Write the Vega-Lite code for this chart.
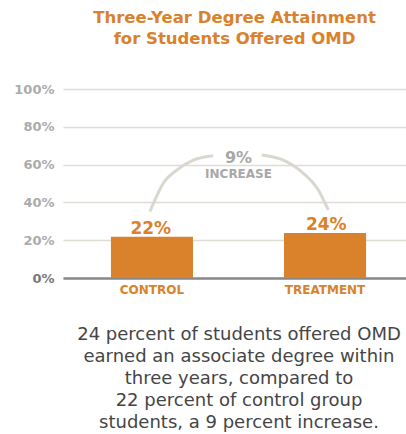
{
  "$schema": "https://vega.github.io/schema/vega-lite/v6.json",
  "autosize": "none",
  "width": 343,
  "height": 189,
  "padding": {"left": 63, "top": 89, "right": 0, "bottom": 156},
  "background": "white",
  "config": {
    "view": {"stroke": null},
    "font": "DejaVu Sans"
  },
  "title": {
    "text": ["Three-Year Degree Attainment", "for Students Offered OMD"],
    "color": "#D9822B",
    "fontSize": 16.5,
    "fontWeight": "bold",
    "font": "DejaVu Sans",
    "anchor": "middle",
    "lineHeight": 21,
    "offset": 36
  },
  "datasets": {
    "bars": [
      {"group": "CONTROL", "value": 21.8, "label": "22%"},
      {"group": "TREATMENT", "value": 23.8, "label": "24%"}
    ],
    "arc": [
      {"seg": "a", "pos": -0.012, "pct": 35.1},
      {"seg": "a", "pos": 0.017, "pct": 41.3},
      {"seg": "a", "pos": 0.065, "pct": 50.1},
      {"seg": "a", "pos": 0.143, "pct": 57.1},
      {"seg": "a", "pos": 0.239, "pct": 62.4},
      {"seg": "a", "pos": 0.354, "pct": 64.7},
      {"seg": "b", "pos": 0.634, "pct": 65.1},
      {"seg": "b", "pos": 0.759, "pct": 62.4},
      {"seg": "b", "pos": 0.875, "pct": 55.4},
      {"seg": "b", "pos": 0.961, "pct": 46.6},
      {"seg": "b", "pos": 1.019, "pct": 36.0}
    ],
    "annot": [
      {"pos": 0.5, "pct": 61.0, "text": "9%", "size": "big"},
      {"pos": 0.5, "pct": 52.75, "text": "INCREASE", "size": "small"}
    ]
  },
  "layer": [
    {
      "data": {"name": "bars"},
      "mark": {"type": "bar", "color": "#D9822B"},
      "encoding": {
        "x": {
          "field": "group",
          "type": "nominal",
          "sort": null,
          "scale": {"range": [0, 351], "paddingInner": 0.526, "paddingOuter": 0.277},
          "axis": {
            "labelAngle": 0,
            "labelColor": "#D9822B",
            "labelFontWeight": "bold",
            "labelFontSize": 12,
            "labelPadding": 6,
            "ticks": false,
            "domain": true,
            "domainColor": "#888888",
            "domainWidth": 2.5,
            "title": [
              "24 percent of students offered OMD",
              "earned an associate degree within",
              "three years, compared to",
              "22 percent of control group",
              "students, a 9 percent increase."
            ],
            "titleFontSize": 18,
            "titleFontWeight": "normal",
            "titleColor": "#454545",
            "titleLineHeight": 22,
            "titlePadding": 30
          }
        },
        "y": {
          "field": "value",
          "type": "quantitative",
          "scale": {"domain": [0, 100]},
          "axis": {
            "values": [0, 20, 40, 60, 80, 100],
            "labelExpr": "datum.value + '%'",
            "labelFontWeight": "bold",
            "labelFontSize": 13,
            "labelColor": {"condition": {"test": "datum.value === 0", "value": "#777777"}, "value": "#ababab"},
            "labelPadding": 9,
            "labelOverlap": false,
            "ticks": false,
            "domain": false,
            "grid": true,
            "gridColor": "#dedcd5",
            "gridWidth": 1.3,
            "title": null
          }
        }
      }
    },
    {
      "data": {"name": "bars"},
      "mark": {"type": "text", "color": "#D9822B", "fontWeight": "bold", "fontSize": 17, "baseline": "alphabetic", "dy": -3},
      "encoding": {
        "x": {
          "field": "group",
          "type": "nominal",
          "sort": null,
          "scale": {"range": [0, 351], "paddingInner": 0.526, "paddingOuter": 0.277},
          "axis": null
        },
        "y": {
          "field": "value",
          "type": "quantitative",
          "axis": {
            "values": [0, 20, 40, 60, 80, 100],
            "labelExpr": "datum.value + '%'",
            "labelFontWeight": "bold",
            "labelFontSize": 13,
            "labelColor": {"condition": {"test": "datum.value === 0", "value": "#777777"}, "value": "#ababab"},
            "labelPadding": 9,
            "labelOverlap": false,
            "ticks": false,
            "domain": false,
            "grid": true,
            "gridColor": "#dedcd5",
            "gridWidth": 1.3,
            "title": null
          }
        },
        "text": {"field": "label"}
      }
    },
    {
      "data": {"name": "arc"},
      "mark": {"type": "line", "interpolate": "monotone", "color": "#d9d7d0", "strokeWidth": 3},
      "encoding": {
        "x": {"field": "pos", "type": "quantitative", "scale": {"domain": [-0.5145, 1.4682], "nice": false, "zero": false}, "axis": null},
        "y": {
          "field": "pct",
          "type": "quantitative",
          "axis": {
            "values": [0, 20, 40, 60, 80, 100],
            "labelExpr": "datum.value + '%'",
            "labelFontWeight": "bold",
            "labelFontSize": 13,
            "labelColor": {"condition": {"test": "datum.value === 0", "value": "#777777"}, "value": "#ababab"},
            "labelPadding": 9,
            "labelOverlap": false,
            "ticks": false,
            "domain": false,
            "grid": true,
            "gridColor": "#dedcd5",
            "gridWidth": 1.3,
            "title": null
          }
        },
        "detail": {"field": "seg"}
      }
    },
    {
      "data": {"name": "annot"},
      "mark": {"type": "text", "color": "#a8a8a8", "fontWeight": "bold", "baseline": "alphabetic"},
      "encoding": {
        "x": {"field": "pos", "type": "quantitative", "scale": {"domain": [-0.5145, 1.4682], "nice": false, "zero": false}, "axis": null},
        "y": {
          "field": "pct",
          "type": "quantitative",
          "axis": {
            "values": [0, 20, 40, 60, 80, 100],
            "labelExpr": "datum.value + '%'",
            "labelFontWeight": "bold",
            "labelFontSize": 13,
            "labelColor": {"condition": {"test": "datum.value === 0", "value": "#777777"}, "value": "#ababab"},
            "labelPadding": 9,
            "labelOverlap": false,
            "ticks": false,
            "domain": false,
            "grid": true,
            "gridColor": "#dedcd5",
            "gridWidth": 1.3,
            "title": null
          }
        },
        "text": {"field": "text"},
        "size": {"field": "size", "type": "nominal", "scale": {"domain": ["big", "small"], "range": [16, 12]}, "legend": null}
      }
    }
  ],
  "resolve": {"scale": {"x": "independent"}}
}
